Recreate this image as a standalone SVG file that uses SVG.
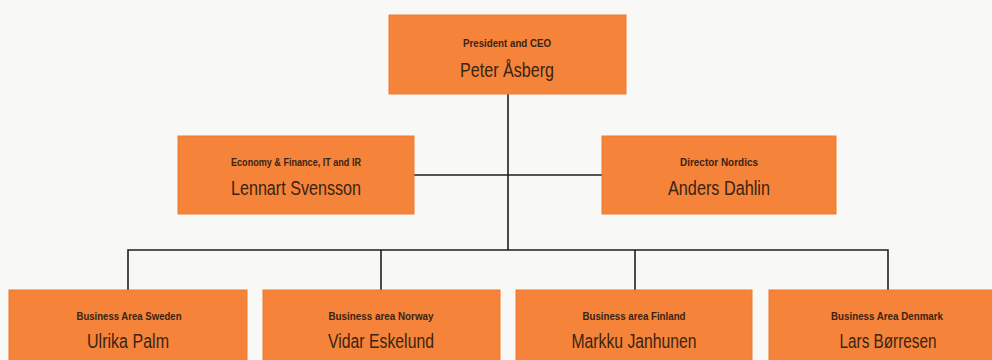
<svg xmlns="http://www.w3.org/2000/svg" width="992" height="360" viewBox="0 0 992 360">
<style>
.box{fill:#f5833a;stroke:#ee7a2e;stroke-width:1}
.lab{font-family:"Liberation Sans",Arial,sans-serif;font-weight:bold;font-size:10px;fill:#3a2414;text-anchor:middle}
.name{font-family:"Liberation Sans",Arial,sans-serif;font-size:20px;fill:#3a2414;text-anchor:middle}
.ln{stroke:#1e1e1e;stroke-width:1.6;fill:none}
</style>
<rect width="992" height="360" fill="#f8f8f7"/>
<g id="connectors">
<path class="ln" d="M508 94V250"/>
<path class="ln" d="M414 175H602"/>
<path class="ln" d="M128 290V250H888V290"/>
<path class="ln" d="M381 250V290"/>
<path class="ln" d="M635 250V290"/>
</g>
<g id="ceo">
<rect class="box" x="389" y="15" width="237" height="79"/>
<text class="lab" x="507" y="47" textLength="88" lengthAdjust="spacingAndGlyphs">President and CEO</text>
<text class="name" x="507" y="77" textLength="94" lengthAdjust="spacingAndGlyphs">Peter Åsberg</text>
</g>
<g id="finance">
<rect class="box" x="178" y="136" width="236" height="78"/>
<text class="lab" x="296" y="166" textLength="130" lengthAdjust="spacingAndGlyphs">Economy &amp; Finance, IT and IR</text>
<text class="name" x="296" y="195" textLength="130" lengthAdjust="spacingAndGlyphs">Lennart Svensson</text>
</g>
<g id="nordics">
<rect class="box" x="602" y="136" width="234" height="78"/>
<text class="lab" x="719" y="166" textLength="78" lengthAdjust="spacingAndGlyphs">Director Nordics</text>
<text class="name" x="719" y="195" textLength="102" lengthAdjust="spacingAndGlyphs">Anders Dahlin</text>
</g>
<g id="sweden">
<rect class="box" x="9" y="290" width="238" height="80"/>
<text class="lab" x="129" y="320" textLength="105" lengthAdjust="spacingAndGlyphs">Business Area Sweden</text>
<text class="name" x="128" y="348" textLength="82" lengthAdjust="spacingAndGlyphs">Ulrika Palm</text>
</g>
<g id="norway">
<rect class="box" x="263" y="290" width="237" height="80"/>
<text class="lab" x="381" y="320" textLength="105" lengthAdjust="spacingAndGlyphs">Business area Norway</text>
<text class="name" x="381" y="348" textLength="106" lengthAdjust="spacingAndGlyphs">Vidar Eskelund</text>
</g>
<g id="finland">
<rect class="box" x="516" y="290" width="236" height="80"/>
<text class="lab" x="634" y="320" textLength="103" lengthAdjust="spacingAndGlyphs">Business area Finland</text>
<text class="name" x="634" y="348" textLength="125" lengthAdjust="spacingAndGlyphs">Markku Janhunen</text>
</g>
<g id="denmark">
<rect class="box" x="769" y="290" width="240" height="80"/>
<text class="lab" x="887" y="320" textLength="112" lengthAdjust="spacingAndGlyphs">Business Area Denmark</text>
<text class="name" x="888" y="348" textLength="97" lengthAdjust="spacingAndGlyphs">Lars Børresen</text>
</g>
</svg>
